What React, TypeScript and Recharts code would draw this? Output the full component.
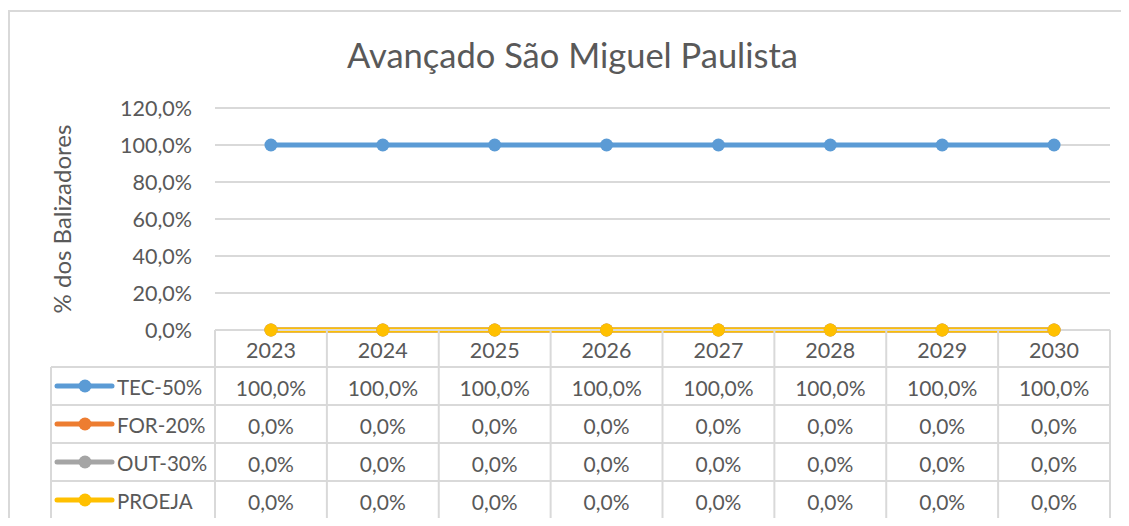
import React from 'react';
import { LineChart, Line, XAxis, YAxis, CartesianGrid } from 'recharts';

const years = ['2023', '2024', '2025', '2026', '2027', '2028', '2029', '2030'];
const tec50 = [1, 1, 1, 1, 1, 1, 1, 1];
const for20 = [0, 0, 0, 0, 0, 0, 0, 0];
const out30 = [0, 0, 0, 0, 0, 0, 0, 0];
const proeja = [0, 0, 0, 0, 0, 0, 0, 0];
const yTicks = [0, 0.2, 0.4, 0.6, 0.8, 1.0, 1.2];

const SERIES = [
  { key: 'tec', name: 'TEC-50%', color: '#5b9bd5', values: tec50 },
  { key: 'for', name: 'FOR-20%', color: '#ed7d31', values: for20 },
  { key: 'out', name: 'OUT-30%', color: '#a5a5a5', values: out30 },
  { key: 'proeja', name: 'PROEJA', color: '#ffc000', values: proeja },
];

const FONT = 'Lato, "Open Sans", sans-serif';
const TEXT = '#595959';
const GRID = '#d9d9d9';
const FS = 21;

const W = 1129;
const H = 526;
const COL = 111.875;
const HEAD = 37;
const ROW = 38;
const LEGEND_LEFT = 51;

const chartData = years.map((year, i) => {
  const row: any = { year };
  SERIES.forEach(s => { row[s.key] = s.values[i]; });
  return row;
});

const pct = (v: number) => `${(v * 100).toFixed(1).replace('.', ',')}%`;

// draws one column of the data table under each category
const TableTick = (props: any) => {
  const { x, y, payload, index } = props;
  const left = x - COL / 2;
  const right = x + COL / 2;
  const bottom = y + HEAD + ROW * SERIES.length;
  const idx = years.indexOf(payload.value);
  return (
    <g>
      {index === 0 && <line x1={left} x2={left} y1={y} y2={bottom} stroke={GRID} strokeWidth={2} />}
      <line x1={right} x2={right} y1={y} y2={bottom} stroke={GRID} strokeWidth={2} />
      <text x={x} y={y + HEAD / 2 + 1} textAnchor="middle" dominantBaseline="central" fill={TEXT} fontSize={FS + 0.5} fontFamily={FONT}>
        {payload.value}
      </text>
      {SERIES.map((s, r) => {
        const top = y + HEAD + ROW * r;
        return (
          <g key={s.key}>
            <line x1={index === 0 ? LEGEND_LEFT : left} x2={right} y1={top} y2={top} stroke={GRID} strokeWidth={2} />
            <text x={x} y={top + ROW / 2 + 1} textAnchor="middle" dominantBaseline="central" fill={TEXT} fontSize={FS} fontFamily={FONT}>
              {pct(s.values[idx])}
            </text>
            {index === 0 && (
              <g>
                <line x1={57} x2={112} y1={top + ROW / 2} y2={top + ROW / 2} stroke={s.color} strokeWidth={5} strokeLinecap="round" />
                <circle cx={85} cy={top + ROW / 2} r={6.5} fill={s.color} />
                <text x={117} y={top + ROW / 2 + 1} dominantBaseline="central" fill={TEXT} fontSize={20.5} fontFamily={FONT}>
                  {s.name}
                </text>
              </g>
            )}
          </g>
        );
      })}
      <line x1={index === 0 ? LEGEND_LEFT : left} x2={right} y1={bottom} y2={bottom} stroke={GRID} strokeWidth={2} />
      {index === 0 && <line x1={LEGEND_LEFT} x2={LEGEND_LEFT} y1={y + HEAD} y2={bottom} stroke={GRID} strokeWidth={2} />}
    </g>
  );
};

export default function App() {
  return (
    <div style={{ position: 'relative', width: W, height: H, margin: -8, background: '#fff', overflow: 'hidden' }}>
      <div style={{ position: 'absolute', left: 0, top: 34, width: 1145, textAlign: 'center', fontFamily: FONT, fontSize: 34.5, color: TEXT }}>
        Avançado São Miguel Paulista
      </div>
      <div style={{ position: 'absolute', left: 0, top: 0 }}>
        <LineChart width={W} height={H} data={chartData} margin={{ top: 108, right: 19, left: 15, bottom: 0 }}>
          <CartesianGrid vertical={false} stroke={GRID} strokeWidth={2} />
          <XAxis
            dataKey="year"
            height={196}
            padding={{ left: COL / 2, right: COL / 2 }}
            axisLine={{ stroke: GRID, strokeWidth: 2 }}
            tickLine={false}
            tickSize={0}
            tickMargin={0}
            interval={0}
            tick={<TableTick />}
          />
          <YAxis
            width={200}
            domain={[0, 1.2]}
            ticks={yTicks}
            axisLine={false}
            tickLine={false}
            tickSize={0}
            tickMargin={23}
            tickFormatter={pct}
            tick={{ fill: TEXT, fontSize: FS + 0.5, fontFamily: FONT }}
            label={{ value: '% dos Balizadores', angle: -90, position: 'insideLeft', offset: 47, fill: TEXT, fontSize: 24, fontFamily: FONT, style: { textAnchor: 'middle' } }}
          />
          {SERIES.map(s => (
            <Line
              key={s.key}
              dataKey={s.key}
              name={s.name}
              stroke={s.color}
              strokeWidth={5}
              dot={{ r: 6.5, fill: s.color, stroke: s.color, strokeWidth: 0 }}
              activeDot={false}
              isAnimationActive={false}
            />
          ))}
        </LineChart>
      </div>
      {/* chart frame, cropped on the right and bottom */}
      <div style={{ position: 'absolute', left: 8, top: 10, width: W, height: 2, background: GRID }} />
      <div style={{ position: 'absolute', left: 8, top: 10, width: 2, height: H, background: GRID }} />
    </div>
  );
}
